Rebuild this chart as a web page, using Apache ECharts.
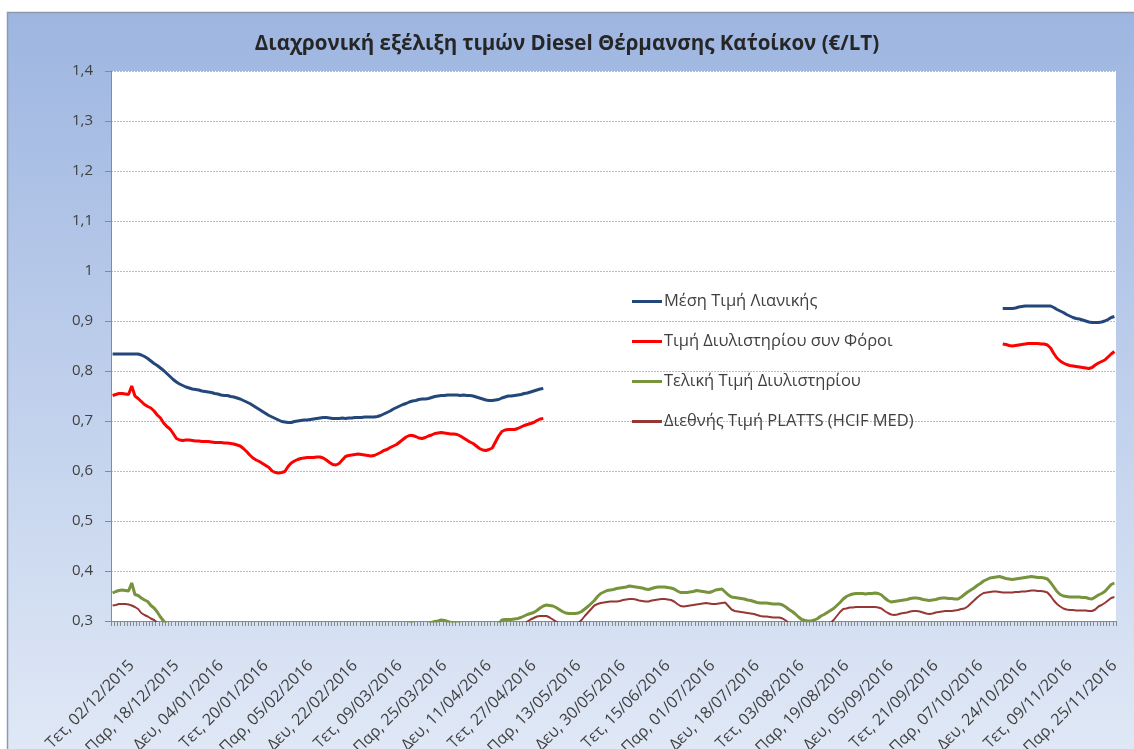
<!DOCTYPE html>
<html>
<head>
<meta charset="utf-8">
<script src="https://cdn.jsdelivr.net/npm/echarts@6/dist/echarts.min.js"></script>
<style>
  html, body { margin: 0; padding: 0; background: #ffffff; }
  #chart { width: 1134px; height: 749px; }
</style>
</head>
<body>
<div id="chart"></div>
<script>
// ---- Data ----
const title = 'Διαχρονική εξέλιξη τιμών Diesel Θέρμανσης Κατ΄οίκον (€/LT)';
const seriesNames = ['Μέση Τιμή Λιανικής', 'Τιμή Διυλιστηρίου συν Φόροι', 'Τελική Τιμή Διυλιστηρίου', 'Διεθνής Τιμή PLATTS (HCIF MED)'];
const tickLabels = ['Τετ, 02/12/2015','Παρ, 18/12/2015','Δευ, 04/01/2016','Τετ, 20/01/2016','Παρ, 05/02/2016','Δευ, 22/02/2016','Τετ, 09/03/2016','Παρ, 25/03/2016','Δευ, 11/04/2016','Τετ, 27/04/2016','Παρ, 13/05/2016','Δευ, 30/05/2016','Τετ, 15/06/2016','Παρ, 01/07/2016','Δευ, 18/07/2016','Τετ, 03/08/2016','Παρ, 19/08/2016','Δευ, 05/09/2016','Τετ, 21/09/2016','Παρ, 07/10/2016','Δευ, 24/10/2016','Τετ, 09/11/2016','Παρ, 25/11/2016'];
const daysPerTick = 14;
const dayCount = 315;
const yTicks = [0.3, 0.4, 0.5, 0.6, 0.7, 0.8, 0.9, 1.0, 1.1, 1.2, 1.3, 1.4];

// retail price: first stretch (days 0-135), missing days, last stretch (days 279-314)
const retailFirst = [
0.834,0.834,0.834,0.834,0.834,0.834,0.834,0.834,0.834,0.832,
0.829,0.825,0.820,0.815,0.811,0.806,0.801,0.795,0.789,0.783,
0.778,0.774,0.771,0.768,0.766,0.764,0.763,0.762,0.760,0.759,
0.758,0.757,0.755,0.754,0.752,0.751,0.751,0.749,0.748,0.746,
0.744,0.741,0.738,0.735,0.731,0.727,0.723,0.719,0.715,0.711,
0.708,0.705,0.702,0.699,0.698,0.697,0.697,0.699,0.700,0.701,
0.702,0.702,0.703,0.704,0.705,0.706,0.707,0.707,0.706,0.705,
0.705,0.705,0.706,0.705,0.706,0.706,0.707,0.707,0.707,0.708,
0.708,0.708,0.708,0.709,0.711,0.714,0.717,0.720,0.724,0.727,
0.730,0.733,0.735,0.738,0.740,0.741,0.743,0.744,0.744,0.745,
0.747,0.749,0.750,0.751,0.751,0.752,0.752,0.752,0.752,0.751,
0.752,0.751,0.751,0.750,0.748,0.746,0.744,0.742,0.741,0.741,
0.742,0.743,0.746,0.748,0.750,0.750,0.751,0.752,0.753,0.755,
0.756,0.758,0.760,0.762,0.764,0.765];
const retailMissing = 143;
const retailLast = [
0.925,0.925,0.925,0.925,0.926,0.928,0.929,0.930,0.930,0.930,
0.930,0.930,0.930,0.930,0.930,0.930,0.927,0.923,0.920,0.917,
0.913,0.910,0.907,0.905,0.904,0.902,0.900,0.898,0.897,0.897,
0.897,0.898,0.900,0.903,0.907,0.909];

const refTaxFirst = [
0.751,0.753,0.755,0.755,0.754,0.753,0.770,0.750,0.745,0.739,
0.733,0.729,0.726,0.720,0.712,0.706,0.696,0.689,0.684,0.675,
0.665,0.662,0.661,0.662,0.662,0.661,0.660,0.660,0.659,0.659,
0.659,0.658,0.657,0.657,0.657,0.656,0.656,0.655,0.654,0.652,
0.650,0.645,0.639,0.632,0.626,0.622,0.619,0.615,0.611,0.607,
0.600,0.597,0.596,0.597,0.599,0.609,0.616,0.620,0.623,0.625,
0.626,0.627,0.627,0.627,0.628,0.628,0.626,0.622,0.617,0.613,
0.612,0.615,0.622,0.629,0.631,0.632,0.633,0.634,0.633,0.632,
0.631,0.630,0.631,0.634,0.637,0.641,0.643,0.647,0.650,0.653,
0.658,0.663,0.668,0.671,0.671,0.669,0.666,0.665,0.667,0.670,
0.672,0.675,0.676,0.677,0.676,0.675,0.674,0.674,0.673,0.670,
0.666,0.662,0.658,0.655,0.650,0.645,0.642,0.641,0.643,0.646,
0.658,0.670,0.679,0.682,0.683,0.683,0.683,0.685,0.688,0.691,
0.693,0.695,0.697,0.701,0.704,0.705];
const refTaxLast = [
0.854,0.853,0.851,0.850,0.851,0.852,0.853,0.854,0.855,0.855,
0.855,0.855,0.854,0.854,0.852,0.846,0.835,0.826,0.820,0.816,
0.813,0.811,0.810,0.809,0.808,0.807,0.806,0.805,0.807,0.812,
0.816,0.819,0.822,0.828,0.834,0.839];

const refFinal = [
0.356,0.359,0.361,0.362,0.361,0.360,0.376,0.353,0.351,0.346,
0.342,0.339,0.331,0.326,0.318,0.308,0.300,0.293,0.290,0.288,
0.286,0.285,0.285,0.286,0.285,0.285,0.284,0.284,0.283,0.283,
0.283,0.282,0.281,0.281,0.280,0.280,0.280,0.279,0.278,0.276,
0.273,0.269,0.262,0.256,0.250,0.246,0.243,0.239,0.235,0.230,
0.224,0.221,0.220,0.221,0.223,0.233,0.239,0.244,0.247,0.249,
0.250,0.250,0.251,0.251,0.252,0.252,0.250,0.246,0.241,0.237,
0.236,0.239,0.246,0.253,0.255,0.255,0.256,0.258,0.257,0.256,
0.255,0.254,0.255,0.258,0.262,0.265,0.267,0.271,0.274,0.277,
0.282,0.287,0.292,0.295,0.295,0.293,0.290,0.289,0.291,0.294,
0.297,0.299,0.300,0.302,0.301,0.299,0.297,0.296,0.296,0.294,
0.290,0.286,0.282,0.278,0.274,0.269,0.266,0.265,0.267,0.270,
0.282,0.294,0.302,0.303,0.303,0.303,0.304,0.305,0.307,0.310,
0.313,0.315,0.317,0.321,0.326,0.330,0.332,0.331,0.330,0.327,
0.323,0.319,0.316,0.315,0.315,0.315,0.316,0.319,0.324,0.329,
0.335,0.341,0.349,0.355,0.358,0.361,0.362,0.363,0.365,0.366,
0.367,0.368,0.370,0.369,0.368,0.367,0.366,0.364,0.363,0.365,
0.367,0.368,0.368,0.368,0.367,0.366,0.364,0.360,0.357,0.357,
0.357,0.358,0.359,0.361,0.360,0.359,0.358,0.357,0.359,0.362,
0.363,0.364,0.358,0.352,0.348,0.347,0.346,0.345,0.344,0.342,
0.341,0.339,0.337,0.336,0.336,0.336,0.335,0.334,0.334,0.334,
0.332,0.328,0.323,0.319,0.314,0.308,0.303,0.301,0.300,0.300,
0.302,0.305,0.310,0.313,0.317,0.321,0.325,0.331,0.337,0.344,
0.349,0.352,0.354,0.355,0.355,0.355,0.354,0.355,0.355,0.356,
0.355,0.352,0.346,0.341,0.338,0.339,0.340,0.341,0.342,0.343,
0.345,0.346,0.346,0.345,0.343,0.342,0.341,0.342,0.343,0.345,
0.346,0.346,0.345,0.345,0.344,0.344,0.348,0.353,0.358,0.362,
0.366,0.371,0.375,0.380,0.383,0.386,0.387,0.388,0.389,0.387,
0.385,0.384,0.383,0.384,0.385,0.386,0.387,0.388,0.389,0.388,
0.387,0.387,0.386,0.384,0.377,0.368,0.359,0.353,0.350,0.349,
0.348,0.348,0.348,0.348,0.347,0.347,0.345,0.344,0.348,0.352,
0.355,0.359,0.366,0.373,0.376];

const platts = [
0.331,0.332,0.334,0.334,0.334,0.333,0.331,0.328,0.324,0.316,
0.312,0.309,0.305,0.302,0.297,0.292,0.288,0.283,0.278,0.274,
0.269,0.265,0.262,0.262,0.261,0.261,0.260,0.260,0.259,0.259,
0.258,0.258,0.257,0.256,0.256,0.256,0.255,0.254,0.253,0.251,
0.248,0.244,0.238,0.231,0.225,0.221,0.218,0.214,0.210,0.205,
0.199,0.196,0.195,0.196,0.198,0.208,0.214,0.219,0.222,0.224,
0.225,0.225,0.226,0.226,0.227,0.227,0.225,0.221,0.216,0.212,
0.211,0.214,0.221,0.228,0.230,0.230,0.231,0.233,0.232,0.231,
0.230,0.229,0.230,0.233,0.237,0.240,0.242,0.246,0.249,0.252,
0.257,0.262,0.267,0.270,0.270,0.268,0.265,0.264,0.266,0.269,
0.272,0.275,0.276,0.277,0.276,0.274,0.272,0.271,0.271,0.269,
0.265,0.261,0.257,0.254,0.249,0.244,0.241,0.240,0.242,0.245,
0.257,0.269,0.278,0.279,0.281,0.283,0.285,0.288,0.291,0.295,
0.299,0.303,0.306,0.309,0.310,0.310,0.310,0.307,0.303,0.299,
0.295,0.292,0.289,0.288,0.289,0.291,0.296,0.302,0.310,0.317,
0.324,0.331,0.334,0.336,0.337,0.338,0.339,0.339,0.339,0.340,
0.342,0.343,0.344,0.344,0.343,0.341,0.340,0.339,0.339,0.341,
0.342,0.343,0.344,0.344,0.343,0.342,0.339,0.334,0.330,0.329,
0.330,0.331,0.332,0.333,0.334,0.335,0.336,0.335,0.334,0.334,
0.335,0.336,0.337,0.330,0.323,0.320,0.319,0.318,0.317,0.316,
0.315,0.314,0.312,0.310,0.309,0.309,0.308,0.307,0.307,0.307,
0.305,0.301,0.295,0.289,0.284,0.279,0.276,0.274,0.273,0.273,
0.275,0.278,0.282,0.286,0.291,0.296,0.302,0.310,0.318,0.324,
0.325,0.327,0.327,0.328,0.328,0.328,0.328,0.328,0.328,0.328,
0.327,0.325,0.320,0.316,0.313,0.312,0.313,0.315,0.316,0.317,
0.319,0.320,0.320,0.319,0.317,0.315,0.314,0.315,0.317,0.318,
0.319,0.320,0.320,0.320,0.321,0.322,0.324,0.325,0.329,0.335,
0.341,0.347,0.352,0.356,0.357,0.358,0.359,0.359,0.358,0.357,
0.357,0.357,0.357,0.358,0.358,0.359,0.359,0.360,0.361,0.361,
0.360,0.360,0.359,0.357,0.350,0.341,0.334,0.329,0.325,0.323,
0.322,0.322,0.321,0.321,0.321,0.321,0.320,0.320,0.323,0.329,
0.332,0.336,0.341,0.346,0.348];

// ---- Build ----
const gap = new Array(retailMissing).fill(null);
const retail = [...retailFirst, ...gap, ...retailLast];
const refTax = [...refTaxFirst, ...gap, ...refTaxLast];
const categories = Array.from({ length: dayCount }, (_, j) => String(j));

// Excel places rotated category labels a little to the right of their day;
// reproduce that by drawing each label a few category slots later.
const labelShift = 6;
function labelFor(index) {
  const k = index - labelShift;
  return (k >= 0 && k % daysPerTick === 0) ? (tickLabels[k / daysPerTick] || '') : '';
}

const fontFamily = '"Open Sans", "Noto Sans", sans-serif';
const textColor = '#404040';
const colors = ['#24477a', '#ff0000', '#77933c', '#953735'];

const chart = echarts.init(document.getElementById('chart'), null, { renderer: 'canvas' });

function fmtY(v) {
  return String(Number(v.toFixed(1))).replace('.', ',');
}

const option = {
  animation: false,
  backgroundColor: '#ffffff',
  textStyle: { fontFamily: fontFamily },
  graphic: [{
    type: 'rect',
    z: -100,
    silent: true,
    shape: { x: 7.5, y: 12.5, width: 1140, height: 750 },
    style: {
      fill: new echarts.graphic.LinearGradient(0, 0, 0, 1, [
        { offset: 0, color: '#9db5e0' },
        { offset: 0.45, color: '#bccdeb' },
        { offset: 1, color: '#e1e9f6' }
      ]),
      stroke: '#8c9aae',
      lineWidth: 1.5
    }
  }],
  title: {
    text: title,
    left: 'center',
    top: 29,
    textStyle: { fontFamily: fontFamily, fontSize: 20.5, fontWeight: 'bold', color: '#262626' }
  },
  legend: {
    orient: 'vertical',
    left: 627,
    top: 285,
    icon: 'rect',
    itemWidth: 30,
    itemHeight: 3,
    itemGap: 17,
    data: seriesNames,
    textStyle: { fontFamily: fontFamily, fontSize: 16.5, color: textColor, padding: [0, 0, 0, -3], lineHeight: 23 }
  },
  grid: {
    left: 111,
    right: 18,
    top: 71,
    bottom: 128,
    containLabel: false,
    outerBoundsMode: 'none',
    show: true,
    backgroundColor: '#ffffff',
    borderWidth: 0
  },
  xAxis: {
    type: 'category',
    data: categories,
    boundaryGap: true,
    axisLine: { show: true, lineStyle: { color: '#8a8a8a', width: 1 } },
    axisTick: { show: true, interval: 0, length: 5, lineStyle: { color: '#8a8a8a' } },
    axisLabel: {
      interval: function (index) { return labelFor(index) !== ''; },
      rotate: 45,
      margin: 42,
      hideOverlap: false,
      fontFamily: fontFamily,
      fontSize: 16,
      color: textColor,
      formatter: function (value, index) { return labelFor(index); }
    },
    splitLine: { show: false }
  },
  yAxis: {
    type: 'value',
    min: yTicks[0],
    max: yTicks[yTicks.length - 1],
    interval: 0.1,
    axisLine: { show: true, lineStyle: { color: '#8a8a8a', width: 1 } },
    axisTick: { show: true, length: 6, lineStyle: { color: '#8a8a8a' } },
    axisLabel: { fontFamily: fontFamily, fontSize: 15, color: textColor, margin: 18, formatter: fmtY },
    splitLine: { show: true, lineStyle: { color: '#bdbdbd', type: [2, 1], width: 1 } }
  },
  series: [
    { name: seriesNames[0], type: 'line', data: retail, symbol: 'none', connectNulls: false, clip: true,
      lineStyle: { color: colors[0], width: 3 }, itemStyle: { color: colors[0] }, z: 4 },
    { name: seriesNames[1], type: 'line', data: refTax, symbol: 'none', connectNulls: false, clip: true,
      lineStyle: { color: colors[1], width: 3 }, itemStyle: { color: colors[1] }, z: 3 },
    { name: seriesNames[2], type: 'line', data: refFinal, symbol: 'none', clip: true,
      lineStyle: { color: colors[2], width: 3 }, itemStyle: { color: colors[2] }, z: 2 },
    { name: seriesNames[3], type: 'line', data: platts, symbol: 'none', clip: true,
      lineStyle: { color: colors[3], width: 2 }, itemStyle: { color: colors[3] }, z: 2 }
  ]
};

chart.setOption(option);
</script>
</body>
</html>
